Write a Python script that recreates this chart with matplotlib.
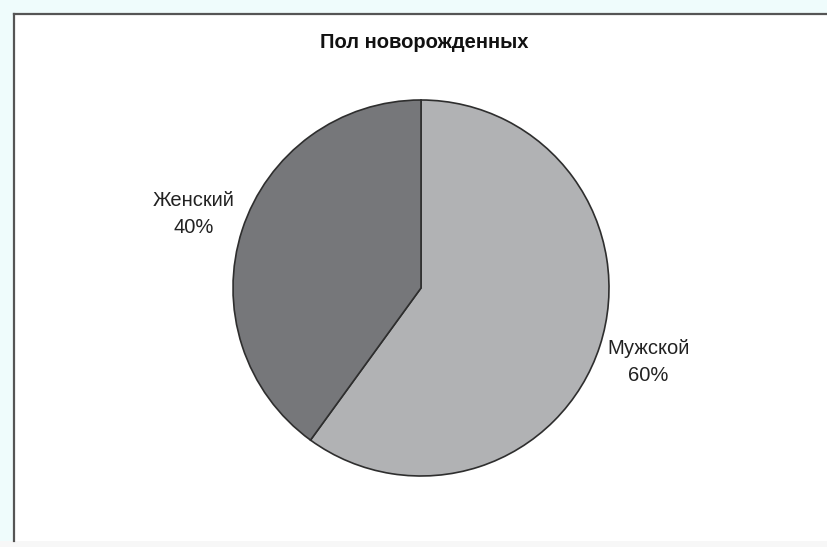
import numpy as np
import matplotlib.pyplot as plt
from matplotlib.patches import Rectangle
from matplotlib.lines import Line2D

plt.rcParams['font.family'] = ['Liberation Sans', 'DejaVu Sans']

title = "Пол новорожденных"
categories = ["Мужской", "Женский"]
shares = [60, 40]
colors = ["#b1b2b4", "#76777a"]

W, H = 827, 547
fig = plt.figure(figsize=(W / 100, H / 100), dpi=100, facecolor="#effcfc")
ax = fig.add_axes([0, 0, 1, 1])

# white chart area with its frame (left and top edges only are visible)
ax.add_patch(Rectangle((14, 6), W - 14, H - 6 - 14, facecolor="white",
                       edgecolor="none", zorder=0))
ax.add_line(Line2D([14, 14], [6, H - 14], color="#555555", lw=1.6, zorder=1))
ax.add_line(Line2D([14, W], [H - 14, H - 14], color="#555555", lw=1.6, zorder=1))
ax.add_patch(Rectangle((0, 0), W, 6, facecolor="#f7f7f7", edgecolor="none", zorder=0))

cx, cy, r = 421, H - 288, 188
wedges, texts = ax.pie(shares, colors=colors, startangle=90, counterclock=False,
                       center=(cx, cy), radius=r, frame=True,
                       labels=[f"{c}\n{v}%" for c, v in zip(categories, shares)],
                       labeldistance=1.27,
                       wedgeprops=dict(edgecolor="#2e2e2e", linewidth=1.2))
for t in texts:
    t.set_ha("center")
    t.set_va("center")
    t.set_fontsize(14.5)
    t.set_color("#222222")
    t.set_linespacing(1.55)

ax.set_xlim(0, W)
ax.set_ylim(0, H)
ax.set_aspect("equal")
ax.axis("off")

ax.text(424, H - 42, title, ha="center", va="center", fontsize=14.5,
        fontweight="bold", color="#111111")

fig.savefig("out.png", dpi=100, facecolor=fig.get_facecolor())
